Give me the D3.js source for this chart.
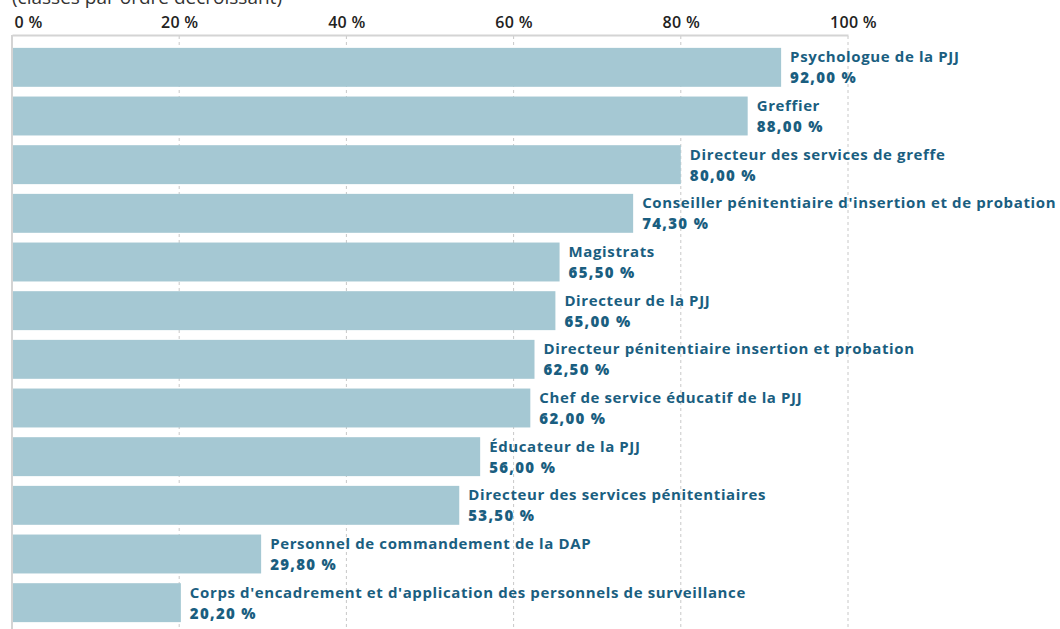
<!DOCTYPE html>
<html><head><meta charset="utf-8">
<script src="https://cdn.jsdelivr.net/npm/d3@7"></script>
<style>body{margin:0;background:#fff}svg{display:block}</style>
</head><body>
<svg id="c" width="1060" height="629"></svg>
<script>
const categories = [
  "Psychologue de la PJJ",
  "Greffier",
  "Directeur des services de greffe",
  "Conseiller pénitentiaire d'insertion et de probation",
  "Magistrats",
  "Directeur de la PJJ",
  "Directeur pénitentiaire insertion et probation",
  "Chef de service éducatif de la PJJ",
  "Éducateur de la PJJ",
  "Directeur des services pénitentiaires",
  "Personnel de commandement de la DAP",
  "Corps d'encadrement et d'application des personnels de surveillance"
];
const values = [92.0, 88.0, 80.0, 74.3, 65.5, 65.0, 62.5, 62.0, 56.0, 53.5, 29.8, 20.2];
const tickValues = [0, 20, 40, 60, 80, 100];
const subtitle = "(classés par ordre décroissant)";

const svg = d3.select("#c");
const x = d3.scaleLinear().domain([0, 100]).range([12, 848]);
const y = d3.scaleBand().domain(categories).range([43, 627]).paddingInner(0.2).paddingOuter(0.1);
const fmt = v => d3.format(".2f")(v).replace(".", ",") + " %";
const FONT = "'Open Sans', sans-serif";

svg.append("text").attr("x", 12).attr("y", 4)
  .attr("font-family", FONT).attr("font-size", 19).attr("fill", "#333")
  .text(subtitle);

// gridlines
svg.append("g").selectAll("line").data(tickValues.slice(1)).join("line")
  .attr("x1", d => x(d)).attr("x2", d => x(d)).attr("y1", 36).attr("y2", 629)
  .attr("stroke", "#c8c8c8").attr("stroke-width", 1).attr("stroke-dasharray", "3,3");

// top axis
const ax = svg.append("g").attr("transform", "translate(0,35)")
  .call(d3.axisTop(x).tickValues(tickValues).tickSize(0).tickPadding(7).tickFormat(d => d + " %"));
ax.select(".domain").attr("stroke", "#d4d4d4").attr("stroke-width", 2);
ax.selectAll("text").attr("font-family", FONT).attr("font-size", 16)
  .attr("font-weight", 600).attr("fill", "#222").attr("letter-spacing", 0.3)
  .attr("text-anchor", (d, i) => i === 0 ? "start" : "middle")
  .attr("dx", (d, i) => i === 0 ? 2 : (i === tickValues.length - 1 ? 5 : 0));

// left line
svg.append("line").attr("x1", x(0)).attr("x2", x(0)).attr("y1", 35).attr("y2", 629)
  .attr("stroke", "#d4d4d4").attr("stroke-width", 2);

// bars
svg.append("g").selectAll("rect").data(categories).join("rect")
  .attr("x", x(0) + 1).attr("y", d => y(d))
  .attr("width", (d, i) => x(values[i]) - x(0) - 1).attr("height", y.bandwidth())
  .attr("fill", "#a5c8d3");

const lab = svg.append("g").selectAll("g").data(categories).join("g")
  .attr("transform", (d, i) => `translate(${x(values[i]) + 9},${y(d)})`);
lab.append("text").attr("y", 14.5).text(d => d)
  .attr("font-family", FONT).attr("font-size", 15).attr("font-weight", 700)
  .attr("letter-spacing", 0.62).attr("fill", "#1a5e80");
lab.append("text").attr("y", 35.5).text((d, i) => fmt(values[i]))
  .attr("font-family", FONT).attr("font-size", 15).attr("font-weight", 800)
  .attr("letter-spacing", 1.3).attr("fill", "#1a5e80");
</script>
</body></html>
